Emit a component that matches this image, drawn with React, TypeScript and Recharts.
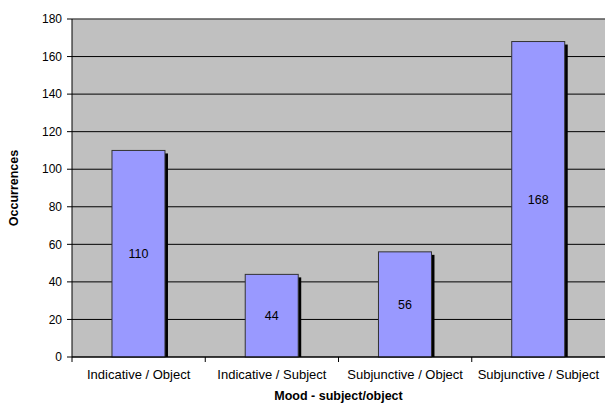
import React from "react";
import {
  BarChart,
  Bar,
  XAxis,
  YAxis,
  CartesianGrid,
  LabelList,
  ReferenceLine,
} from "recharts";

const categories = [
  "Indicative / Object",
  "Indicative / Subject",
  "Subjunctive / Object",
  "Subjunctive / Subject",
];
const occurrences = [110, 44, 56, 168];
const yTicks = [0, 20, 40, 60, 80, 100, 120, 140, 160, 180];

const data = categories.map((c, i) => ({ name: c, value: occurrences[i] }));

const FONT = "'Liberation Sans', Arial, sans-serif";

const ShadowBar = (props: any) => {
  const { x, y, width, height } = props;
  return (
    <g>
      <rect x={x + 3} y={y + 3} width={width} height={height - 3} fill="#000" />
      <rect
        x={x}
        y={y}
        width={width}
        height={height}
        fill="#9999FF"
        stroke="#333"
        strokeWidth={1}
      />
    </g>
  );
};

const XTick = (props: any) => {
  const { x, y, payload } = props;
  const band = (605 - 72) / categories.length;
  const left = x - band / 2;
  return (
    <g>
      <line x1={left} y1={y - 8} x2={left} y2={y - 3} stroke="#000" />
      <text
        x={x}
        y={y + 14}
        textAnchor="middle"
        fontSize={13}
        fontFamily={FONT}
        fill="#000"
      >
        {payload.value}
      </text>
    </g>
  );
};

export default function App() {
  return (
    <div style={{ position: "absolute", left: 0, top: 0, width: 605, height: 403, background: "#fff" }}>
      <BarChart
        width={605}
        height={403}
        data={data}
        margin={{ top: 19, right: 0, left: 0, bottom: 0 }}
        barCategoryGap="30%"
      >
        <CartesianGrid
          vertical={false}
          horizontal={true}
          stroke="#000"
          fill="#C0C0C0"
          fillOpacity={1}
        />
        <ReferenceLine y={180} stroke="#808080" />
        <XAxis
          dataKey="name"
          height={46}
          tickLine={false}
          axisLine={{ stroke: "#000" }}
          tick={<XTick />}
          interval={0}
          label={{
            value: "Mood - subject/object",
            position: "insideBottom",
            offset: 3,
            fontSize: 12.5,
            fontWeight: "bold",
            fontFamily: FONT,
            fill: "#000",
          }}
        />
        <YAxis
          width={72}
          domain={[0, 180]}
          ticks={yTicks}
          interval={0}
          tickSize={5}
          tickMargin={5}
          tickLine={{ stroke: "#000" }}
          axisLine={{ stroke: "#000" }}
          tick={{ fontSize: 12, fontFamily: FONT, fill: "#000" }}
          label={{
            value: "Occurrences",
            angle: -90,
            position: "insideLeft",
            offset: 14,
            style: { textAnchor: "middle" },
            fontSize: 12.5,
            fontWeight: "bold",
            fontFamily: FONT,
            fill: "#000",
          }}
        />
        <Bar dataKey="value" shape={<ShadowBar />} isAnimationActive={false}>
          <LabelList
            dataKey="value"
            position="center"
            fontSize={12.5}
            fontFamily={FONT}
            fill="#000"
          />
        </Bar>
      </BarChart>
    </div>
  );
}
